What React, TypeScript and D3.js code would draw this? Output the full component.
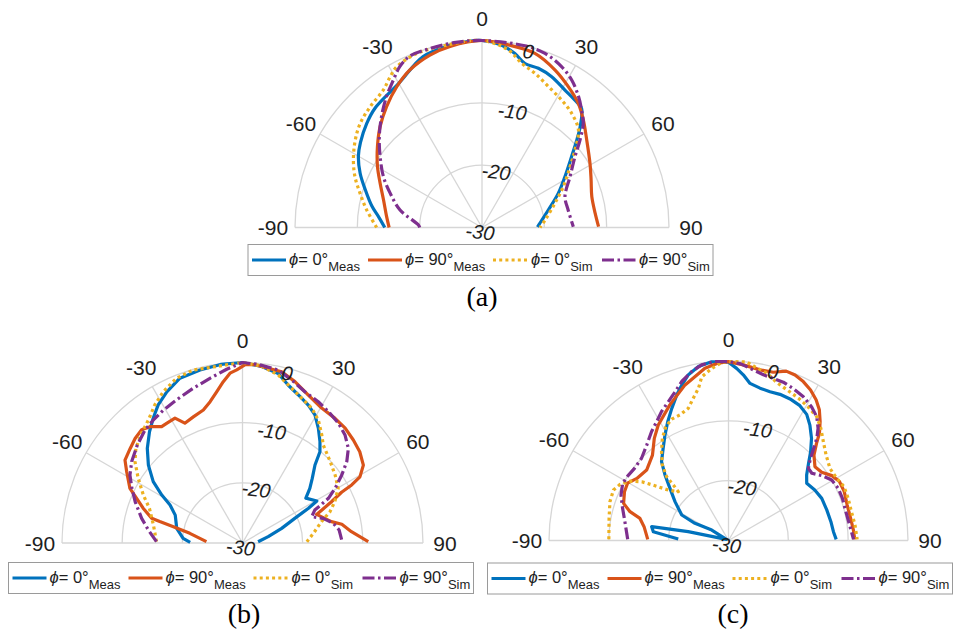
import React from 'react';
import * as d3 from 'd3';

// [theta (deg), gain (dB)]
type Pt = [number, number];

const thetaTicks = [-90, -60, -30, 0, 30, 60, 90];
const rTicks = [0, -10, -20, -30];
const legendValues = ['0°', '90°', '0°', '90°'];
const legendSubs = ['Meas', 'Meas', 'Sim', 'Sim'];
const captions = ['(a)', '(b)', '(c)'];

// panel (a)
const a0Meas: Pt[] = [
  [-90, -14.4], [-84, -13.3], [-79, -12.0], [-72, -10.3], [-66, -8.6], [-60, -7.1], [-55, -6.2],
  [-48, -5.1], [-42, -4.3], [-30, -3.3], [-19, -1.0], [-11, -0.4], [-4, -0.05], [0, 0],
  [6, -0.55], [10.7, -1.6], [14.7, -2.8], [19.5, -2.9], [24.8, -3.35], [31.1, -4.25], [36, -4.7],
  [39.9, -5.1], [44.2, -7.4], [47.3, -9.3], [51.7, -11.7], [58.5, -14.4], [65.9, -16.6],
  [75.2, -19.0], [87.5, -20.9], [89.5, -21.1],
];
const a90Meas: Pt[] = [
  [-90, -15.1], [-83.5, -14.6], [-74.4, -13.6], [-66.6, -12.2], [-59.8, -10.6], [-52.3, -8.8],
  [-45.3, -7.0], [-38.3, -5.3], [-31.2, -3.6], [-24.6, -2.2], [-16.8, -1.1], [-10, -0.5], [0, 0],
  [8.2, -0.4], [16.9, -0.8], [24.9, -2.15], [31.5, -3.5], [37.8, -4.8], [43.3, -6.3], [50.1, -8.1],
  [59.3, -9.85], [66.4, -10.9], [74.3, -11.7], [82.9, -11.7], [89.6, -11.3],
];
const a0Sim: Pt[] = [
  [-90, -13.1], [-81.4, -11.3], [-74.4, -9.7], [-68.2, -8.05], [-62.3, -6.7], [-55.4, -5.3],
  [-49.5, -4.3], [-42.8, -3.6], [-35.7, -2.85], [-31.4, -1.7], [-27.9, -0.8], [-20.4, -0.2],
  [-11, -0.2], [0, 0], [8.4, -1.2], [13.6, -2.9], [19, -3.85], [25.2, -5.0], [32, -5.9],
  [38.1, -6.7], [44.7, -8.0], [50.2, -10.6], [55.3, -12.8], [63.3, -15.4], [71.7, -17.7],
  [83.2, -19.8], [90, -20.7],
];
const a90Sim: Pt[] = [
  [-90, -20.0], [-87.8, -19.8], [-77.9, -16.55], [-69.6, -14.3], [-62.7, -12.2], [-55.2, -10.1],
  [-48.5, -8.0], [-42.2, -6.0], [-36.1, -4.0], [-31, -2.4], [-27, -1.0], [-22.7, -0.15],
  [-16, -0.1], [-8, 0], [0, 0], [13.3, -0.05], [19.9, -0.3], [26.3, -1.2], [31.3, -2.3],
  [36.4, -3.9], [40.3, -5.3], [44.2, -6.7], [48.2, -8.9], [52.7, -11.25], [60, -13.7],
  [69.6, -15.8], [78.5, -15.9], [89.5, -15.35],
];

// panel (b)
const b0Meas: Pt[] = [
  [-89.3, -21.3], [-85.5, -20.1], [-77.4, -18.8], [-67.5, -17.9], [-62.3, -16.4], [-59.3, -14.4],
  [-55.5, -12.0], [-50.4, -9.7], [-45.2, -7.7], [-39.9, -5.9], [-35.6, -4.5], [-31.4, -3.1],
  [-26.6, -1.9], [-20.8, -0.7], [-13.8, -0.4], [-7, -0.1], [0, 0], [6.2, -0.5], [11.9, -1.2],
  [16.2, -2.7], [20.7, -3.7], [25.5, -4.6], [29.5, -5.55], [33.5, -7.15], [37.4, -8.8],
  [40.3, -10.1], [42.9, -12.3], [47.2, -14.2], [51, -15.6], [54.7, -17.1], [60.5, -15.8],
  [62.2, -17.6], [64.8, -20.4], [69.5, -23.05], [76.2, -25.6], [85.2, -27.4],
];
const b90Meas: Pt[] = [
  [-87.9, -24.0], [-79.6, -21.1], [-76.7, -18.2], [-75.5, -15.8], [-74.8, -14.35], [-70.7, -12.5],
  [-67.1, -10.9], [-64.1, -9.2], [-58.4, -7.4], [-54.8, -6.1], [-49.9, -5.6], [-45.8, -5.1],
  [-41.7, -4.8], [-38.5, -5.3], [-34.8, -6.45], [-32.4, -6.45], [-28.4, -6.4], [-25.7, -7.9],
  [-21.3, -7.5], [-16.4, -6.95], [-12.9, -5.9], [-9.7, -4.5], [-6.8, -3.0], [-4.2, -1.7],
  [-1.9, -1.2], [1, -0.3], [4, -0.3], [8.4, -0.65], [12.9, -0.8], [18, -1.8], [24, -3.1],
  [30.4, -4.0], [36.6, -4.2], [41.8, -4.4], [47.1, -4.85], [52.1, -5.3], [57.2, -6.1],
  [60.6, -7.6], [62, -9.45], [62.9, -11.5], [65.1, -13.7], [67.4, -15.7], [68.9, -16.8],
  [76.5, -14.8], [79.3, -13.2], [84.1, -11.8], [89.4, -9.1],
];
const b0Sim: Pt[] = [
  [-89.1, -15.7], [-78.6, -14.9], [-69.6, -13.5], [-64.2, -11.7], [-58.2, -9.6], [-52.9, -7.6],
  [-48.4, -6.3], [-42.6, -5.2], [-37.4, -4.25], [-32.4, -2.8], [-27.6, -1.6], [-21.8, -0.5],
  [-15.9, -0.1], [0, 0], [6, -0.4], [12, -1.45], [17.6, -3.0], [22.2, -4.0], [27.2, -4.8],
  [31.7, -6.0], [36.2, -7.7], [39.5, -8.9], [47.1, -10.1], [53.7, -10.9], [60.3, -11.7],
  [65.9, -13.2], [70.3, -14.55], [74.9, -16.4], [82.2, -18.1], [88.8, -19.3],
];
const b90Sim: Pt[] = [
  [-89.1, -15.7], [-82.1, -14.2], [-76.3, -12.75], [-69, -10.9], [-63.7, -9.5], [-58.9, -8.15],
  [-53.7, -7.15], [-47, -6.1], [-40.8, -5.2], [-35.9, -4.75], [-30.8, -4.3], [-24.7, -3.8],
  [-17.6, -3.0], [-11.2, -2.1], [-5.2, -1.0], [0, 0], [5, -0.2], [11.7, -0.64], [16.8, -1.7],
  [22.4, -2.8], [28.2, -3.35], [33.2, -3.9], [38.7, -4.5], [43.5, -5.25], [48.2, -6.4],
  [52, -8.0], [55.6, -10.0], [59.4, -12.1], [62.5, -13.9], [64.3, -15.7], [65.5, -16.8],
  [69.2, -17.7], [73, -16.0], [77.8, -14.55], [82.3, -13.8], [88.3, -13.5],
];

// panel (c)
const c0Meas: Pt[] = [
  [-88.3, -21.6], [-83.3, -17.35], [-79.8, -16.95], [-77.6, -23.1], [-62, -29.6], [-58, -26.7],
  [-62.9, -23.7], [-61.4, -21.1], [-54, -18.95], [-48.3, -16.9], [-44.1, -14.75], [-40.3, -12.7],
  [-35.3, -11.1], [-31, -9.4], [-27.1, -7.7], [-23.3, -6.0], [-19.6, -4.2], [-16.8, -2.9],
  [-13.6, -1.5], [-9.8, -0.5], [-5.4, 0], [0, -0.2], [2.7, -1.2], [5.1, -2.2], [7.8, -3.5],
  [11.7, -4.0], [15.6, -4.2], [19.4, -4.1], [23.5, -4.2], [27.9, -4.5], [31.8, -5.2],
  [35.2, -6.4], [39.1, -8.0], [42.8, -9.8], [46, -11.4], [50, -12.95], [53.8, -13.8],
  [59.7, -13.3], [65.7, -12.9], [72.7, -12.8], [79.6, -12.6], [85.2, -12.4], [89.4, -12.0],
];
const c90Meas: Pt[] = [
  [-89.2, -16.5], [-80.7, -15.7], [-76, -14.75], [-73.7, -12.85], [-70.5, -11.4], [-64.9, -10.8],
  [-60.4, -10.6], [-55.9, -11.5], [-49.3, -11.95], [-41.7, -10.9], [-36, -8.9], [-31.3, -7.4],
  [-23.4, -5.3], [-15.6, -3.0], [-7.8, -0.96], [-3.3, -0.3], [0, -0.1], [4.8, -0.55],
  [10.5, -1.0], [14.9, -0.9], [18.8, -0.1], [21.9, -0.2], [25.2, -0.65], [28.6, -1.35],
  [31.9, -2.3], [34.8, -3.4], [37.6, -4.9], [40.3, -6.5], [42.2, -8.1], [45, -9.8], [49.5, -11.0],
  [53.8, -10.7], [57.9, -9.6], [62, -9.0], [67.1, -9.0], [73.4, -9.3], [79.7, -9.25],
  [85.2, -9.05], [89.5, -8.9],
];
const c0Sim: Pt[] = [
  [-89.4, -10.0], [-79.5, -9.7], [-71.9, -9.15], [-66.3, -9.0], [-62.6, -9.6], [-58.9, -10.8],
  [-55.9, -12.5], [-53.3, -14.7], [-50, -16.9], [-45.8, -18.3], [-44.8, -16.9], [-44.1, -15.15],
  [-41.2, -13.2], [-37, -11.4], [-32.9, -9.65], [-28.9, -8.3], [-25.1, -7.6], [-21.1, -7.5],
  [-16.9, -6.9], [-13.9, -5.5], [-11.2, -4.1], [-9.3, -2.3], [-5.6, -1.1], [-2, -0.2], [0, -0.1],
  [5.8, 0], [10.5, -1.0], [12.9, -1.3], [17, -2.4], [21.3, -3.0], [26.2, -3.5], [30.8, -4.0],
  [35.5, -4.6], [39.4, -5.7], [43.8, -7.1], [48.7, -8.3], [54.6, -9.2], [60.1, -9.15],
  [65, -8.7], [70.6, -8.8], [76.8, -8.9], [83, -8.7], [89.5, -8.5],
];
const c90Sim: Pt[] = [
  [-89.3, -13.15], [-79.7, -12.4], [-73.1, -11.5], [-67.1, -10.5], [-61.6, -9.9], [-57.3, -10.0],
  [-52.5, -10.2], [-46.6, -10.0], [-40.6, -9.0], [-35.2, -7.7], [-31.2, -6.8], [-27.4, -5.7],
  [-23.4, -4.7], [-19.8, -3.6], [-16.4, -2.3], [-12.3, -1.1], [-8.7, -0.3], [-4.3, 0], [0, -0.1],
  [4, -0.4], [8.3, -1.2], [11.9, -1.7], [15.5, -1.9], [19.1, -2.0], [23.1, -2.4], [27.5, -2.9],
  [31.9, -3.7], [35.5, -4.6], [38.6, -6.0], [40.8, -7.4], [43.1, -9.3], [45.4, -10.85],
  [47.9, -12.0], [51.1, -12.1], [55.2, -11.0], [59.6, -10.0], [64.6, -9.7], [69.7, -9.7],
  [76.2, -9.8], [82.7, -9.6], [89.5, -9.1],
];

const colors = ['#0072BD', '#D95319', '#EDB120', '#7E2F8E'];
const dashes = ['none', 'none', '3 3.2', '12 3.5 2.5 3.5'];
const axisFont = '"Liberation Sans", Arial, sans-serif';
const ink = '#1e1e1e';
const rad = (deg: number) => (deg * Math.PI) / 180;

interface PanelProps {
  cx: number;
  cy: number;
  R: number;
  series: Pt[][];
  smooth: boolean;
}

function PolarPanel({ cx, cy, R, series, smooth }: PanelProps) {
  const r = d3.scaleLinear().domain([-30, 0]).range([0, R]).clamp(true);
  const line = d3
    .lineRadial<Pt>()
    .angle((d) => rad(d[0]))
    .radius((d) => r(d[1]))
    .curve(smooth ? d3.curveCatmullRom.alpha(0.5) : d3.curveLinear);
  const ring = d3.arc<number>()
    .innerRadius((d) => r(d))
    .outerRadius((d) => r(d))
    .startAngle(-Math.PI / 2)
    .endAngle(Math.PI / 2);

  return (
    <g transform={`translate(${cx},${cy})`}>
      {rTicks.filter((t) => t > -30).map((t) => (
        <path key={t} d={ring(t) || ''} fill="none" stroke="#d6d6d6" strokeWidth={1.3} />
      ))}
      {thetaTicks.map((t) => (
        <line key={t} x1={0} y1={0}
          x2={R * Math.sin(rad(t))} y2={-R * Math.cos(rad(t))}
          stroke="#d6d6d6" strokeWidth={1.3} />
      ))}
      {series.map((s, i) => (
        <path key={i} d={line(s) || ''} fill="none" stroke={colors[i]} strokeWidth={3.2}
          strokeDasharray={dashes[i]} strokeLinejoin="round" />
      ))}
      {thetaTicks.map((t) => (
        <text key={t} x={(R + 22) * Math.sin(rad(t))} y={-(R + 22) * Math.cos(rad(t))}
          textAnchor="middle" dominantBaseline="central"
          fontFamily={axisFont} fontSize={21} fill={ink}>{t}</text>
      ))}
      {rTicks.map((t) => {
        const x = r(t) * Math.sin(rad(15)) - 2;
        const y = -r(t) * Math.cos(rad(15)) + 4.5;
        return (
          <text key={t} x={x} y={y} textAnchor="middle" dominantBaseline="central"
            transform={`rotate(7,${x},${y})`} fontStyle="italic"
            fontFamily={axisFont} fontSize={20} fill={ink}>{t}</text>
        );
      })}
    </g>
  );
}

const sampleX = [[4, 38], [120, 154], [245, 280], [354, 388]];

function Legend({ x, y }: { x: number; y: number }) {
  return (
    <g transform={`translate(${x},${y})`}>
      <rect x={0} y={0} width={465} height={31} fill="#fff" stroke="#9a9a9a" strokeWidth={1} />
      {legendValues.map((v, i) => (
        <g key={i}>
          <line x1={sampleX[i][0]} x2={sampleX[i][1]} y1={15.5} y2={15.5}
            stroke={colors[i]} strokeWidth={3.2} strokeDasharray={dashes[i]} />
          <text x={sampleX[i][1] + 3} y={20} fontFamily={axisFont} fontSize={16.5} fill={ink}>
            <tspan fontStyle="italic">ϕ</tspan>= {v}
            <tspan dy={6} fontSize={13}>{legendSubs[i]}</tspan>
          </text>
        </g>
      ))}
    </g>
  );
}

export default function App() {
  const panels = [
    { cx: 482, cy: 227.5, R: 187, series: [a0Meas, a90Meas, a0Sim, a90Sim], smooth: true,
      lx: 248, ly: 244.5, capX: 482, capY: 306 },
    { cx: 242.5, cy: 543, R: 180.5, series: [b0Meas, b90Meas, b0Sim, b90Sim], smooth: false,
      lx: 8.5, ly: 562.5, capX: 244, capY: 623 },
    { cx: 728.5, cy: 540.5, R: 179.5, series: [c0Meas, c90Meas, c0Sim, c90Sim], smooth: false,
      lx: 487.5, ly: 563, capX: 733, capY: 623 },
  ];
  return (
    <svg width={953} height={634} viewBox="0 0 953 634"
      style={{ position: 'absolute', left: 0, top: 0, background: '#fff' }}>
      <rect width={953} height={634} fill="#fff" />
      {panels.map((p, i) => (
        <g key={i}>
          <PolarPanel cx={p.cx} cy={p.cy} R={p.R} series={p.series} smooth={p.smooth} />
          <Legend x={p.lx} y={p.ly} />
          <text x={p.capX} y={p.capY} textAnchor="middle"
            fontFamily='"Liberation Serif", "Times New Roman", serif' fontSize={28} fill="#000">
            {captions[i]}
          </text>
        </g>
      ))}
    </svg>
  );
}
